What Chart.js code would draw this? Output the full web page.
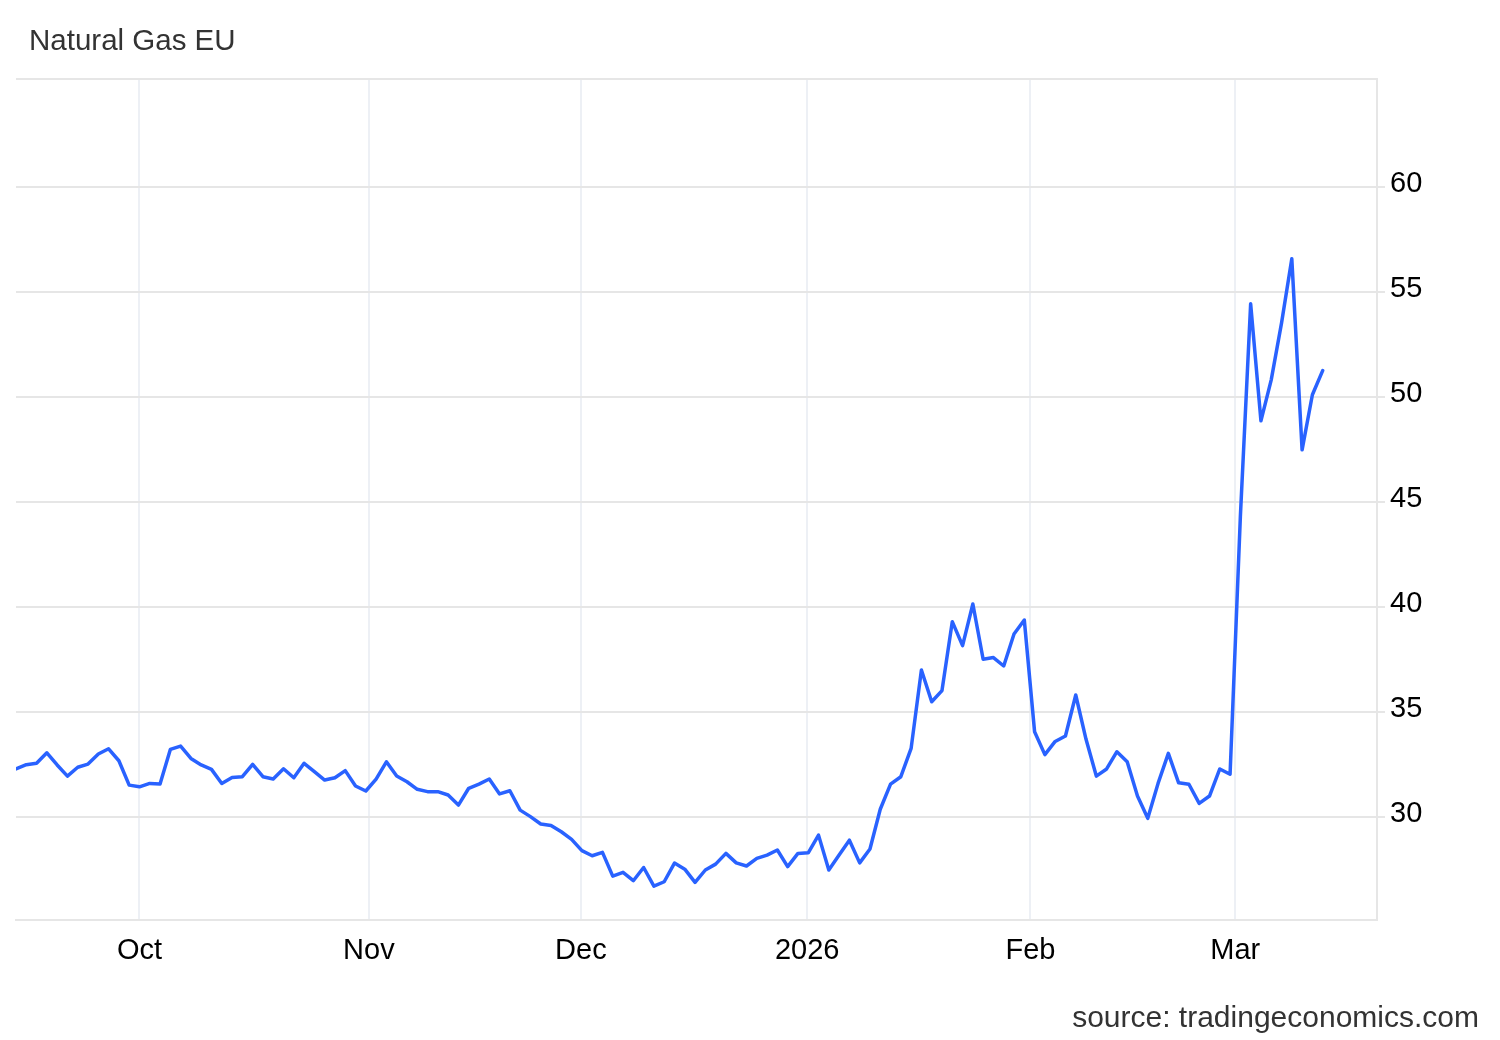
<!DOCTYPE html>
<html>
<head>
<meta charset="utf-8">
<title>Natural Gas EU</title>
<script src="https://cdn.jsdelivr.net/npm/chart.js@4.4.1/dist/chart.umd.min.js"></script>
<style>
  html, body { margin: 0; padding: 0; background: #fff; }
  #wrap { position: relative; width: 1500px; height: 1040px; font-family: "Liberation Sans", Arial, sans-serif; }
  canvas { position: absolute; left: 0; top: 0; }
  .title { position: absolute; left: 29px; top: 25px; font-size: 29.5px; line-height: 1; color: #333; white-space: nowrap; }
  .source { position: absolute; right: 21px; top: 1002px; font-size: 30px; line-height: 1; color: #333; white-space: nowrap; }
</style>
</head>
<body>
<div id="wrap">
  <canvas id="chart" width="1500" height="1040"></canvas>
  <div class="title">Natural Gas EU</div>
  <div class="source">source: tradingeconomics.com</div>
</div>
<script>
// daily closes, one per trading day (mid Sep 2025 -> mid Mar 2026)
const prices = [
  32.29, 32.49, 32.56, 33.06, 32.48, 31.95, 32.37, 32.52, 33.00, 33.25,
  32.68, 31.52, 31.44, 31.60, 31.57, 33.22, 33.38, 32.79, 32.48, 32.27,
  31.60, 31.88, 31.92, 32.51, 31.92, 31.81, 32.30, 31.87, 32.56, 32.16,
  31.76, 31.87, 32.21, 31.48, 31.24, 31.81, 32.63, 31.95, 31.68, 31.32,
  31.21, 31.21, 31.05, 30.57, 31.37, 31.57, 31.81, 31.10, 31.25, 30.33,
  30.02, 29.67, 29.60, 29.30, 28.94, 28.40, 28.16, 28.32, 27.19, 27.37,
  26.97, 27.60, 26.71, 26.92, 27.81, 27.52, 26.89, 27.48, 27.76, 28.27,
  27.82, 27.67, 28.03, 28.19, 28.43, 27.64, 28.27, 28.30, 29.14, 27.48,
  28.19, 28.90, 27.82, 28.48, 30.37, 31.57, 31.92, 33.27, 37.00, 35.49,
  36.02, 39.30, 38.16, 40.14, 37.51, 37.59, 37.19, 38.71, 39.38, 34.06,
  32.97, 33.60, 33.86, 35.81, 33.70, 31.95, 32.29, 33.11, 32.63, 31.00,
  29.94, 31.60, 33.03, 31.63, 31.56, 30.65, 31.00, 32.29, 32.04, 44.30,
  54.43, 48.86, 50.81, 53.51, 56.57, 47.48, 50.10, 51.25
];

// month boundaries, in trading-day positions
const monthTickPos = [12, 34.3, 54.9, 76.9, 98.6, 118.5];
const monthTickLabels = ["Oct", "Nov", "Dec", "2026", "Feb", "Mar"];

const valueTicks = [30, 35, 40, 45, 50, 55, 60];
const yMin = 25.1;
const yMax = 65.13;
const xMax = 132.28;

const gridGrey = "#e6e6e6";

// top edge of the plot frame
const frameTop = {
  id: "frameTop",
  beforeDatasetsDraw(chart) {
    const { ctx, chartArea } = chart;
    ctx.save();
    ctx.strokeStyle = gridGrey;
    ctx.lineWidth = 2;
    ctx.beginPath();
    ctx.moveTo(chartArea.left, chartArea.top);
    ctx.lineTo(chartArea.right, chartArea.top);
    ctx.stroke();
    ctx.restore();
  },
};

const ctx = document.getElementById("chart").getContext("2d");

new Chart(ctx, {
  type: "line",
  data: {
    datasets: [{
      label: "Natural Gas EU",
      data: prices.map((v, i) => ({ x: i, y: v })),
      borderColor: "#2962ff",
      borderWidth: 3.5,
      pointRadius: 0,
      tension: 0,
      borderJoinStyle: "round",
      borderCapStyle: "round",
      fill: false,
    }],
  },
  options: {
    responsive: false,
    devicePixelRatio: 1,
    animation: false,
    layout: { padding: { left: 16, top: 79, right: 0, bottom: 0 } },
    plugins: {
      legend: { display: false },
      tooltip: { enabled: false },
      title: { display: false },
    },
    scales: {
      x: {
        type: "linear",
        min: 0,
        max: xMax,
        afterBuildTicks: (scale) => {
          scale.ticks = monthTickPos.map((v) => ({ value: v }));
        },
        afterFit: (scale) => { scale.height = 120; },
        ticks: {
          autoSkip: false,
          maxRotation: 0,
          padding: 14,
          color: "#000",
          font: { family: "'Liberation Sans', Arial, sans-serif", size: 29 },
          callback: (value, index) => monthTickLabels[index],
        },
        grid: { color: "#edf0f5", lineWidth: 2, drawTicks: false },
        border: { display: true, color: gridGrey, width: 2 },
      },
      y: {
        type: "linear",
        position: "right",
        min: yMin,
        max: yMax,
        afterBuildTicks: (scale) => {
          scale.ticks = valueTicks.map((v) => ({ value: v }));
        },
        afterFit: (scale) => { scale.width = 123; },
        ticks: {
          padding: 5,
          labelOffset: -3,
          color: "#000",
          font: { family: "'Liberation Sans', Arial, sans-serif", size: 29 },
        },
        grid: { color: gridGrey, lineWidth: 2, tickLength: 8, drawTicks: true },
        border: { display: true, color: gridGrey, width: 2 },
      },
    },
  },
  plugins: [frameTop],
});
</script>
</body>
</html>
